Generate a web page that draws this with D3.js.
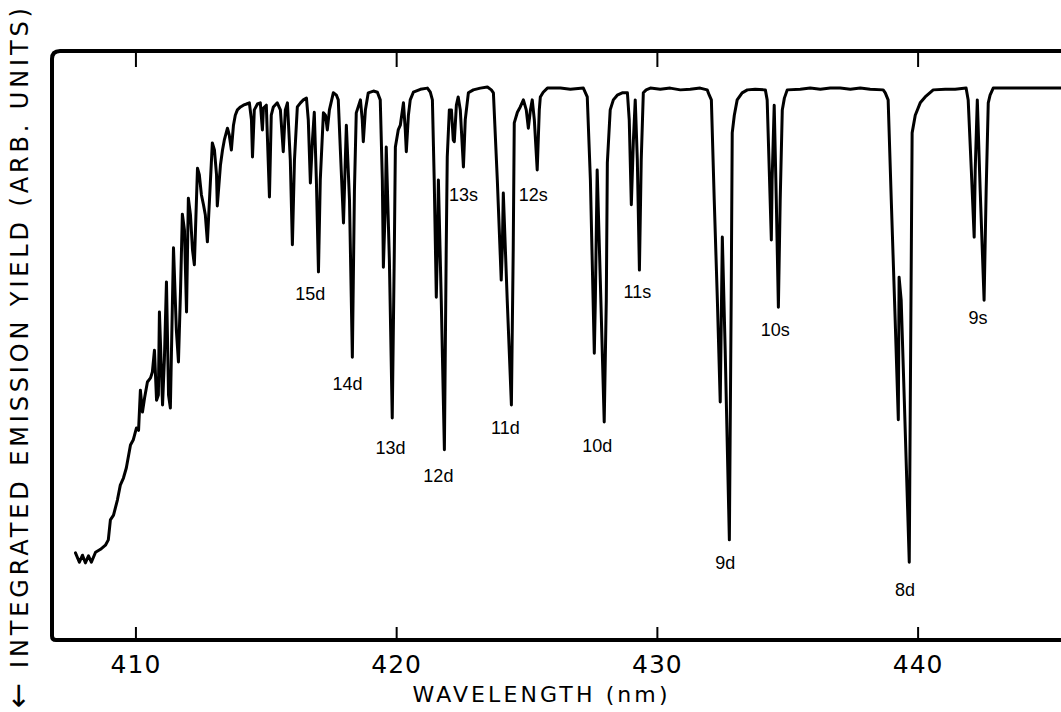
<!DOCTYPE html>
<html>
<head>
<meta charset="utf-8">
<script src="https://cdn.jsdelivr.net/npm/d3@7"></script>
<style>
  body { margin: 0; background: #fff; }
  svg { display: block; }
</style>
</head>
<body>
<div id="chart"></div>
<script>
// spectrum: [wavelength nm, emission yield arb. units]
var spectrum = [
  [407.70,14.8],[407.85,13.2],[407.97,14.4],[408.08,13.1],[408.20,14.3],[408.31,13.2],[408.47,14.9],
  [408.66,15.4],[408.85,16.1],[408.96,17.0],[409.04,20.4],[409.16,21.2],[409.31,23.8],[409.42,26.3],
  [409.54,27.5],[409.65,29.2],[409.81,33.1],[409.92,34.0],[410.04,36.0],[410.12,35.6],[410.19,42.4],
  [410.27,38.7],[410.35,41.1],[410.46,43.8],[410.58,44.5],[410.65,45.5],[410.73,49.2],[410.81,40.7],
  [410.88,41.6],[410.92,55.7],[411.04,39.9],[411.11,47.5],[411.19,60.8],[411.27,41.6],[411.34,39.4],
  [411.46,66.6],[411.57,52.6],[411.65,47.2],[411.73,59.4],[411.80,72.3],[411.88,69.6],[411.96,55.7],
  [412.03,75.0],[412.11,72.2],[412.19,66.2],[412.26,63.7],[412.38,80.1],[412.45,79.0],[412.53,75.6],
  [412.61,73.9],[412.68,72.2],[412.76,67.6],[412.84,74.7],[412.95,84.4],[413.03,83.2],[413.11,79.0],
  [413.14,73.7],[413.26,80.6],[413.34,83.2],[413.41,84.9],[413.53,86.9],[413.60,85.7],[413.68,83.2],
  [413.76,87.4],[413.83,89.1],[413.91,90.0],[414.03,90.5],[414.14,90.8],[414.26,91.0],[414.37,91.2],
  [414.45,88.3],[414.49,82.0],[414.56,90.0],[414.68,91.0],[414.79,91.2],[414.87,86.6],[414.91,90.3],
  [415.02,90.8],[415.14,75.2],[415.21,89.1],[415.29,90.5],[415.44,91.2],[415.56,90.0],[415.67,82.9],
  [415.75,90.0],[415.83,91.2],[415.94,81.5],[416.02,67.1],[416.10,81.5],[416.21,90.5],[416.33,91.2],
  [416.44,91.7],[416.56,92.0],[416.63,88.3],[416.71,77.6],[416.79,84.9],[416.86,89.6],[416.94,78.1],
  [417.02,62.5],[417.09,78.1],[417.21,89.5],[417.29,89.1],[417.36,86.6],[417.44,90.0],[417.59,92.9],
  [417.71,92.5],[417.78,91.7],[417.86,83.2],[417.98,70.8],[418.05,81.5],[418.09,87.4],[418.21,74.7],
  [418.32,48.0],[418.40,76.4],[418.47,89.5],[418.63,91.7],[418.70,88.3],[418.74,84.6],[418.82,90.0],
  [418.93,92.9],[419.13,93.2],[419.28,93.0],[419.39,91.7],[419.47,78.1],[419.51,63.3],[419.59,74.7],
  [419.62,83.7],[419.74,64.5],[419.85,37.7],[419.93,66.2],[419.97,83.7],[420.08,86.6],[420.16,87.4],
  [420.28,91.2],[420.35,86.6],[420.39,82.9],[420.47,89.1],[420.54,91.7],[420.66,93.0],[420.93,93.5],
  [421.20,93.7],[421.31,93.0],[421.39,91.7],[421.46,78.1],[421.54,58.2],[421.58,66.2],[421.62,78.1],
  [421.73,57.7],[421.85,32.3],[421.92,66.2],[421.96,82.0],[422.04,90.0],[422.12,90.0],[422.19,84.9],
  [422.23,84.6],[422.31,90.8],[422.38,92.2],[422.46,90.0],[422.58,80.3],[422.65,88.3],[422.77,92.9],
  [422.96,93.4],[423.23,93.7],[423.50,93.9],[423.65,93.4],[423.73,92.9],[423.88,78.1],[424.03,61.1],
  [424.07,66.2],[424.11,75.9],[424.26,57.7],[424.42,39.9],[424.49,66.2],[424.53,87.8],[424.65,89.6],
  [424.76,90.5],[424.88,91.7],[424.99,90.0],[425.07,86.9],[425.15,90.0],[425.22,91.7],[425.30,88.3],
  [425.41,79.8],[425.49,90.0],[425.53,92.2],[425.64,93.0],[425.80,93.7],[426.30,93.7],[426.68,93.5],
  [427.18,93.7],[427.33,92.2],[427.45,78.1],[427.60,48.7],[427.64,57.7],[427.71,79.8],[427.83,61.1],
  [427.98,37.0],[428.06,57.7],[428.10,81.0],[428.21,90.0],[428.33,91.7],[428.48,92.5],[428.67,92.9],
  [428.87,92.9],[428.94,88.3],[429.02,73.9],[429.10,84.9],[429.17,91.7],[429.25,81.5],[429.33,62.8],
  [429.40,81.5],[429.48,92.9],[429.59,93.4],[429.75,93.7],[430.13,93.5],[430.51,93.7],[430.90,93.4],
  [431.28,93.5],[431.66,93.7],[431.93,93.4],[432.01,92.5],[432.09,91.7],[432.20,74.7],[432.32,57.7],
  [432.43,40.4],[432.47,54.3],[432.51,68.4],[432.62,49.2],[432.78,17.0],[432.85,57.7],[432.89,86.1],
  [432.97,89.1],[433.08,91.7],[433.27,92.9],[433.47,93.4],[433.77,93.5],[434.16,93.4],[434.23,91.7],
  [434.31,79.8],[434.39,67.9],[434.42,78.1],[434.50,90.8],[434.58,74.7],[434.66,56.5],[434.73,74.7],
  [434.81,90.0],[434.89,92.0],[435.00,93.4],[435.50,93.5],[435.88,93.7],[436.27,93.5],[436.65,93.7],
  [437.03,93.7],[437.42,93.5],[437.80,93.7],[438.18,93.5],[438.68,93.4],[438.76,92.9],[438.87,91.7],
  [438.99,74.7],[439.14,54.3],[439.26,37.4],[439.29,61.6],[439.37,57.7],[439.49,40.7],[439.68,13.2],
  [439.72,40.7],[439.79,86.1],[439.91,89.1],[440.10,91.2],[440.29,92.2],[440.60,93.4],[441.06,93.5],
  [441.44,93.5],[441.86,93.7],[441.94,91.7],[442.06,79.8],[442.17,68.4],[442.21,79.8],[442.29,91.7],
  [442.40,76.4],[442.55,57.7],[442.63,76.4],[442.71,91.2],[442.78,92.5],[442.90,93.7],[443.55,93.7],
  [444.32,93.7],[444.82,93.7],[445.66,93.7]
];

// line assignments
var peakLabels = ["15d","14d","13d","12d","13s","12s","11d","10d","11s","9d","10s","8d","9s"];
var peakWave   = [416.71,418.13,419.78,421.62,422.58,425.26,424.19,427.71,429.25,432.62,434.54,439.52,442.32];
var peakYield  = [57.7,42.4,31.6,26.8,74.5,74.5,35.0,31.9,58.1,12.1,51.6,7.5,53.7];

var xTicks = [410, 420, 430, 440];

//Width and height
var w = 1061;
var h = 712;
var plotLeft = 52, plotRight = 1061, plotTop = 51, plotBottom = 640;

var svg = d3.select("#chart")
			.append("svg")
			.attr("width", w)
			.attr("height", h);

var x = d3.scaleLinear().domain([406.8, 445.5]).range([plotLeft, plotRight]);
var y = d3.scaleLinear().domain([0, 100]).range([plotBottom, plotTop]);

//frame, open to the right like the cropped original
svg.append("path")
   .attr("d", "M" + (w + 10) + "," + plotTop + " L" + (plotLeft + 8) + "," + plotTop +
              " Q" + plotLeft + "," + plotTop + " " + plotLeft + "," + (plotTop + 8) +
              " L" + plotLeft + "," + (plotBottom - 4) +
              " Q" + plotLeft + "," + plotBottom + " " + (plotLeft + 4) + "," + plotBottom +
              " L" + (w + 10) + "," + plotBottom)
   .attr("fill", "none")
   .attr("stroke", "#000")
   .attr("stroke-width", 4);

//bottom axis: inward ticks with labels
var xAxis = d3.axisBottom(x)
			.tickValues(xTicks)
			.tickSizeInner(-13)
			.tickSizeOuter(0)
			.tickPadding(15)
			.tickFormat(d3.format("d"));

var gx = svg.append("g")
   .attr("transform", "translate(0," + plotBottom + ")")
   .call(xAxis);
gx.select(".domain").remove();
gx.selectAll("line").attr("stroke", "#000").attr("stroke-width", 2);
gx.selectAll("text")
   .attr("font-family", "'DejaVu Sans', sans-serif")
   .attr("font-size", "25px")
   .attr("letter-spacing", "1px")
   .attr("fill", "#000");

//top axis: ticks only
var gt = svg.append("g")
   .attr("transform", "translate(0," + plotTop + ")")
   .call(d3.axisTop(x).tickValues(xTicks).tickSizeInner(-16).tickSizeOuter(0).tickFormat(""));
gt.select(".domain").remove();
gt.selectAll("line").attr("stroke", "#000").attr("stroke-width", 2);

//spectrum
var line = d3.line()
   .x(function(d) { return x(d[0]); })
   .y(function(d) { return y(d[1]); });

svg.append("path")
   .datum(spectrum)
   .attr("d", line)
   .attr("fill", "none")
   .attr("stroke", "#000")
   .attr("stroke-width", 3)
   .attr("stroke-linejoin", "round")
   .attr("stroke-linecap", "round");

//peak labels
svg.selectAll("text.peak")
   .data(peakLabels)
   .enter()
   .append("text")
   .attr("class", "peak")
   .text(function(d) { return d; })
   .attr("text-anchor", "middle")
   .attr("x", function(d, i) { return x(peakWave[i]); })
   .attr("y", function(d, i) { return y(peakYield[i]); })
   .attr("font-family", "'Liberation Sans', sans-serif")
   .attr("font-size", "18px")
   .attr("fill", "#000");

//axis titles
svg.append("text")
   .text("WAVELENGTH (nm)")
   .attr("text-anchor", "middle")
   .attr("x", 540)
   .attr("y", 702)
   .attr("textLength", 255)
   .attr("lengthAdjust", "spacing")
   .attr("font-family", "'DejaVu Sans', sans-serif")
   .attr("font-size", "22px")
   .attr("fill", "#000");

svg.append("text")
   .text("\u2190")
   .attr("transform", "translate(28,708) rotate(-90)")
   .attr("text-anchor", "start")
   .attr("font-family", "'DejaVu Sans', sans-serif")
   .attr("font-size", "30px")
   .attr("fill", "#000");

svg.append("text")
   .text("INTEGRATED EMISSION YIELD (ARB. UNITS)")
   .attr("transform", "translate(28,668) rotate(-90)")
   .attr("text-anchor", "start")
   .attr("textLength", 660)
   .attr("lengthAdjust", "spacing")
   .attr("font-family", "'DejaVu Sans', sans-serif")
   .attr("font-size", "24px")
   .attr("fill", "#000");
</script>
</body>
</html>
